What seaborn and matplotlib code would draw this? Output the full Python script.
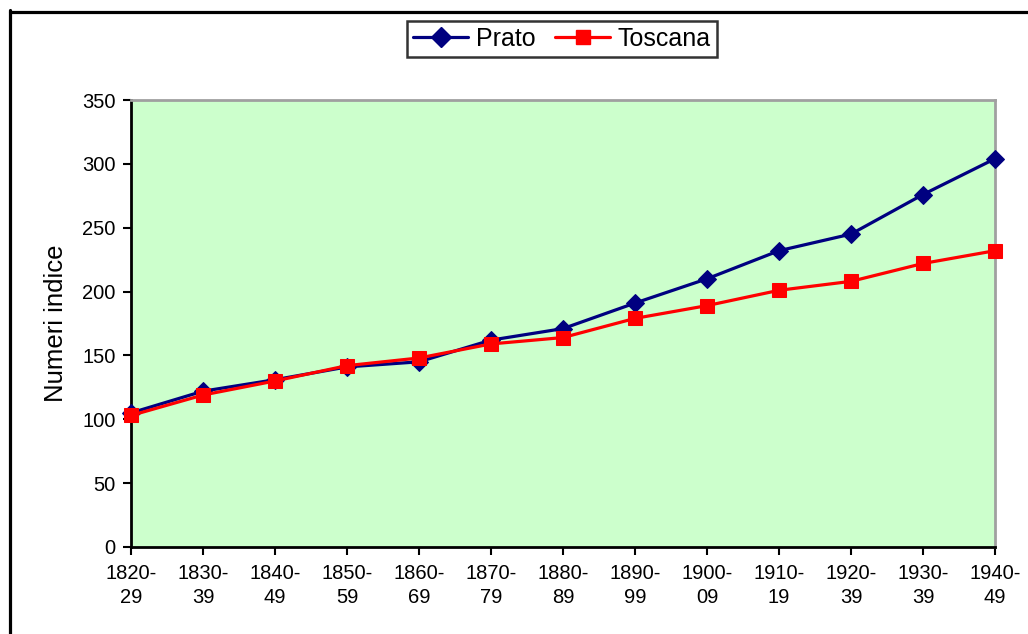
import matplotlib
matplotlib.use("Agg")
import matplotlib.pyplot as plt
from matplotlib.lines import Line2D
import seaborn as sns
import pandas as pd

periods = ["1820-\n29", "1830-\n39", "1840-\n49", "1850-\n59", "1860-\n69", "1870-\n79",
           "1880-\n89", "1890-\n99", "1900-\n09", "1910-\n19", "1920-\n39", "1930-\n39", "1940-\n49"]
prato = [105, 122, 131, 141, 145, 162, 171, 191, 210, 232, 245, 276, 304]
toscana = [103, 119, 130, 142, 148, 159, 164, 179, 189, 201, 208, 222, 232]
y_ticks = [0, 50, 100, 150, 200, 250, 300, 350]

sns.set_theme(style="white")
plt.rcParams['font.family'] = ['Liberation Sans', 'DejaVu Sans']
plt.rcParams['text.color'] = 'black'
plt.rcParams['axes.labelcolor'] = 'black'
plt.rcParams['xtick.color'] = 'black'
plt.rcParams['ytick.color'] = 'black'

W, H = 1028, 634
fig = plt.figure(figsize=(W / 100, H / 100), dpi=100)
left, right, top, bottom = 131, 995, 100, 547
ax = fig.add_axes([left / W, 1 - bottom / H, (right - left) / W, (bottom - top) / H])
ax.set_facecolor("#CCFFCC")

pos = list(range(len(periods)))
df = pd.DataFrame({"pos": pos, "Prato": prato, "Toscana": toscana})

sns.lineplot(data=df, x="pos", y="Prato", ax=ax, color="#000080", linewidth=2.3,
             marker="D", markersize=9.5, markeredgecolor="#000080", sort=False, legend=False,
             clip_on=False, zorder=3)
sns.lineplot(data=df, x="pos", y="Toscana", ax=ax, color="#FF0000", linewidth=2.3,
             marker="s", markersize=10, markeredgecolor="#FF0000", sort=False, legend=False,
             clip_on=False, zorder=4)

ax.set_xlim(0, len(periods) - 1)
ax.set_ylim(0, 350)
ax.set_xticks(pos)
ax.set_xticklabels(periods, fontsize=14.5, linespacing=1.35)
ax.set_yticks(y_ticks)
ax.set_yticklabels([str(v) for v in y_ticks], fontsize=14.5)
ax.tick_params(axis="both", direction="out", length=6, width=1.5, color="black",
               labelcolor="black", bottom=True, left=True, pad=5)
ax.tick_params(axis="x", pad=6)
ax.set_xlabel("")
ax.set_ylabel("Numeri indice", fontsize=18.5, labelpad=10, color="black")
ax.grid(False)

for s in ["left", "bottom"]:
    ax.spines[s].set_color("black")
    ax.spines[s].set_linewidth(2.0)
for s in ["top", "right"]:
    ax.spines[s].set_color("#A0A0A0")
    ax.spines[s].set_linewidth(2.0)

handles = [
    Line2D([], [], color="#000080", linewidth=2.3, marker="D", markersize=10, markeredgecolor="#000080"),
    Line2D([], [], color="#FF0000", linewidth=2.3, marker="s", markersize=10, markeredgecolor="#FF0000"),
]
leg = fig.legend(handles, ["Prato", "Toscana"], loc="center",
                 bbox_to_anchor=(562 / W, 1 - 39 / H), ncol=2, fontsize=18,
                 frameon=True, fancybox=False, handlelength=2.2, handletextpad=0.3,
                 columnspacing=0.8, borderpad=0.25, borderaxespad=0, labelcolor="black")
leg.get_frame().set_edgecolor("black")
leg.get_frame().set_linewidth(1.8)

# outer chart border (top and left visible)
fig.add_artist(Line2D([9.5 / W, 1.0], [1 - 11.5 / H, 1 - 11.5 / H], color="black", linewidth=2.3,
                      transform=fig.transFigure))
fig.add_artist(Line2D([9.5 / W, 9.5 / W], [0.0, 1 - 10 / H], color="black", linewidth=2.3,
                      transform=fig.transFigure))

fig.savefig("out.png", dpi=100, facecolor="white")
